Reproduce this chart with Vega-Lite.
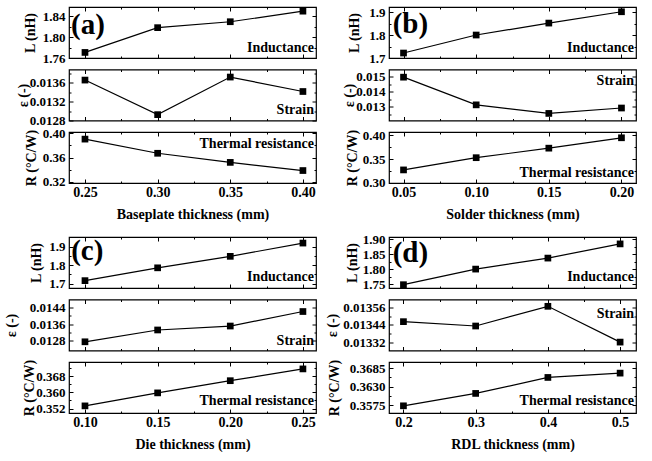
{
"$schema": "https://vega.github.io/schema/vega-lite/v6.json",
"background": "white",
"padding": {"left": 3, "top": 5, "right": 0, "bottom": 0},
"datasets": {
"aL": [{"x":0.25,"y":1.7707},{"x":0.30,"y":1.8183},{"x":0.35,"y":1.8297},{"x":0.40,"y":1.8500}],
"aS": [{"x":0.25,"y":0.013656},{"x":0.30,"y":0.012924},{"x":0.35,"y":0.01372},{"x":0.40,"y":0.013414}],
"aR": [{"x":0.25,"y":0.3905},{"x":0.30,"y":0.3672},{"x":0.35,"y":0.3522},{"x":0.40,"y":0.3388}],
"bL": [{"x":0.05,"y":1.7216},{"x":0.10,"y":1.800},{"x":0.15,"y":1.852},{"x":0.20,"y":1.9013}],
"bS": [{"x":0.05,"y":0.01497},{"x":0.10,"y":0.01313},{"x":0.15,"y":0.01256},{"x":0.20,"y":0.01292}],
"bR": [{"x":0.05,"y":0.327},{"x":0.10,"y":0.3528},{"x":0.15,"y":0.3729},{"x":0.20,"y":0.3948}],
"cL": [{"x":0.10,"y":1.716},{"x":0.15,"y":1.7856},{"x":0.20,"y":1.848},{"x":0.25,"y":1.920}],
"cS": [{"x":0.10,"y":0.01275},{"x":0.15,"y":0.01332},{"x":0.20,"y":0.01351},{"x":0.25,"y":0.01421}],
"cR": [{"x":0.10,"y":0.3533},{"x":0.15,"y":0.3597},{"x":0.20,"y":0.3657},{"x":0.25,"y":0.3715}],
"dL": [{"x":0.2,"y":1.749},{"x":0.3,"y":1.801},{"x":0.4,"y":1.8377},{"x":0.5,"y":1.885}],
"dS": [{"x":0.2,"y":0.013461},{"x":0.3,"y":0.013431},{"x":0.4,"y":0.013567},{"x":0.5,"y":0.01332}],
"dR": [{"x":0.2,"y":0.3573},{"x":0.3,"y":0.36098},{"x":0.4,"y":0.36572},{"x":0.5,"y":0.3670}]
},
"columns": 2,
"spacing": {"row": 10, "column": 6},
"concat": [
{"bounds": "flush", "spacing": 11.5, "vconcat": [
 {"width":247,"height":51,"data":{"name":"aL"},"resolve":{"axis":{"x":"independent","y":"independent"}},"layer":[
  {"mark":{"type":"line","color":"black","strokeWidth":1.2},"encoding":{
   "x":{"field":"x","type":"quantitative","scale":{"domain":[0.239,0.409],"nice":false,"zero":false},"axis":{"orient":"bottom","values":[0.25,0.3,0.35,0.4],"labels":false,"title":null}},
   "y":{"field":"y","type":"quantitative","scale":{"domain":[1.76,1.858],"nice":false,"zero":false},"axis":{"orient":"left","values":[1.76,1.8,1.84],"format":".2f","title":"L (nH)","titleX":-32,"titleY":25.5}}}},
  {"mark":{"type":"point","shape":"square","filled":true,"color":"black","size":45,"opacity":1},"encoding":{
   "x":{"field":"x","type":"quantitative","axis":{"orient":"top","values":[0.25,0.3,0.35,0.4],"labels":false,"title":null}},
   "y":{"field":"y","type":"quantitative","axis":{"orient":"right","values":[1.76,1.8,1.84],"labels":false,"title":null}}}},
  {"mark":{"type":"point","opacity":0},"encoding":{
   "x":{"field":"x","type":"quantitative","axis":{"orient":"bottom","values":[0.275,0.325,0.375],"labels":false,"tickSize":-2,"title":null}},
   "y":{"field":"y","type":"quantitative","axis":{"orient":"left","values":[1.78,1.82],"labels":false,"tickSize":-2,"title":null}}}},
  {"mark":{"type":"point","opacity":0},"encoding":{
   "x":{"field":"x","type":"quantitative","axis":{"orient":"top","values":[0.275,0.325,0.375],"labels":false,"tickSize":-2,"title":null}},
   "y":{"field":"y","type":"quantitative","axis":{"orient":"right","values":[1.78,1.82],"labels":false,"tickSize":-2,"title":null}}}},
  {"data":{"values":[{}]},"mark":{"type":"text","align":"right","baseline":"alphabetic"},"encoding":{
   "x":{"datum":0.4076,"type":"quantitative","axis":null},"y":{"datum":1.7722,"type":"quantitative","axis":null},"text":{"value":"Inductance"}}},
  {"data":{"values":[{}]},"mark":{"type":"text","align":"left","baseline":"alphabetic","fontSize":29},"encoding":{
   "x":{"datum":0.2404,"type":"quantitative","axis":null},"y":{"datum":1.8056,"type":"quantitative","axis":null},"text":{"value":"(a)"}}}
 ]},
 {"width":247,"height":51,"data":{"name":"aS"},"resolve":{"axis":{"x":"independent","y":"independent"}},"layer":[
  {"mark":{"type":"line","color":"black","strokeWidth":1.2},"encoding":{
   "x":{"field":"x","type":"quantitative","scale":{"domain":[0.239,0.409],"nice":false,"zero":false},"axis":{"orient":"bottom","values":[0.25,0.3,0.35,0.4],"labels":false,"title":null}},
   "y":{"field":"y","type":"quantitative","scale":{"domain":[0.0128,0.01388],"nice":false,"zero":false},"axis":{"orient":"left","values":[0.0128,0.0132,0.0136],"format":".4f","title":"ε (-)","titleX":-39,"titleY":25.5}}}},
  {"mark":{"type":"point","shape":"square","filled":true,"color":"black","size":45,"opacity":1},"encoding":{
   "x":{"field":"x","type":"quantitative","axis":{"orient":"top","values":[0.25,0.3,0.35,0.4],"labels":false,"title":null}},
   "y":{"field":"y","type":"quantitative","axis":{"orient":"right","values":[0.0128,0.0132,0.0136],"labels":false,"title":null}}}},
  {"mark":{"type":"point","opacity":0},"encoding":{
   "x":{"field":"x","type":"quantitative","axis":{"orient":"bottom","values":[0.275,0.325,0.375],"labels":false,"tickSize":-2,"title":null}},
   "y":{"field":"y","type":"quantitative","axis":{"orient":"left","values":[0.013,0.0134,0.0138],"labels":false,"tickSize":-2,"title":null}}}},
  {"mark":{"type":"point","opacity":0},"encoding":{
   "x":{"field":"x","type":"quantitative","axis":{"orient":"top","values":[0.275,0.325,0.375],"labels":false,"tickSize":-2,"title":null}},
   "y":{"field":"y","type":"quantitative","axis":{"orient":"right","values":[0.013,0.0134,0.0138],"labels":false,"tickSize":-2,"title":null}}}},
  {"data":{"values":[{}]},"mark":{"type":"text","align":"right","baseline":"alphabetic"},"encoding":{
   "x":{"datum":0.4076,"type":"quantitative","axis":null},"y":{"datum":0.012948,"type":"quantitative","axis":null},"text":{"value":"Strain"}}}
 ]},
 {"width":247,"height":51,"data":{"name":"aR"},"resolve":{"axis":{"x":"independent","y":"independent"}},"layer":[
  {"mark":{"type":"line","color":"black","strokeWidth":1.2},"encoding":{
   "x":{"field":"x","type":"quantitative","scale":{"domain":[0.239,0.409],"nice":false,"zero":false},"axis":{"orient":"bottom","values":[0.25,0.3,0.35,0.4],"format":".2f","title":"Baseplate thickness (mm)"}},
   "y":{"field":"y","type":"quantitative","scale":{"domain":[0.3183,0.4022],"nice":false,"zero":false},"axis":{"orient":"left","values":[0.32,0.36,0.4],"format":".2f","title":"R (°C/W)","titleX":-31,"titleY":25.5}}}},
  {"mark":{"type":"point","shape":"square","filled":true,"color":"black","size":45,"opacity":1},"encoding":{
   "x":{"field":"x","type":"quantitative","axis":{"orient":"top","values":[0.25,0.3,0.35,0.4],"labels":false,"title":null}},
   "y":{"field":"y","type":"quantitative","axis":{"orient":"right","values":[0.32,0.36,0.4],"labels":false,"title":null}}}},
  {"mark":{"type":"point","opacity":0},"encoding":{
   "x":{"field":"x","type":"quantitative","axis":{"orient":"bottom","values":[0.275,0.325,0.375],"labels":false,"tickSize":-2,"title":null}},
   "y":{"field":"y","type":"quantitative","axis":{"orient":"left","values":[0.34,0.38],"labels":false,"tickSize":-2,"title":null}}}},
  {"mark":{"type":"point","opacity":0},"encoding":{
   "x":{"field":"x","type":"quantitative","axis":{"orient":"top","values":[0.275,0.325,0.375],"labels":false,"tickSize":-2,"title":null}},
   "y":{"field":"y","type":"quantitative","axis":{"orient":"right","values":[0.34,0.38],"labels":false,"tickSize":-2,"title":null}}}},
  {"data":{"values":[{}]},"mark":{"type":"text","align":"right","baseline":"alphabetic"},"encoding":{
   "x":{"datum":0.4076,"type":"quantitative","axis":null},"y":{"datum":0.3764,"type":"quantitative","axis":null},"text":{"value":"Thermal resistance"}}}
 ]}
]},
{"bounds": "flush", "spacing": 11.5, "vconcat": [
 {"width":247,"height":51,"data":{"name":"bL"},"resolve":{"axis":{"x":"independent","y":"independent"}},"layer":[
  {"mark":{"type":"line","color":"black","strokeWidth":1.2},"encoding":{
   "x":{"field":"x","type":"quantitative","scale":{"domain":[0.04,0.21],"nice":false,"zero":false},"axis":{"orient":"bottom","values":[0.05,0.1,0.15,0.2],"labels":false,"title":null}},
   "y":{"field":"y","type":"quantitative","scale":{"domain":[1.7,1.922],"nice":false,"zero":false},"axis":{"orient":"left","values":[1.7,1.8,1.9],"format":".1f","title":"L (nH)","titleX":-28,"titleY":25.5}}}},
  {"mark":{"type":"point","shape":"square","filled":true,"color":"black","size":45,"opacity":1},"encoding":{
   "x":{"field":"x","type":"quantitative","axis":{"orient":"top","values":[0.05,0.1,0.15,0.2],"labels":false,"title":null}},
   "y":{"field":"y","type":"quantitative","axis":{"orient":"right","values":[1.7,1.8,1.9],"labels":false,"title":null}}}},
  {"mark":{"type":"point","opacity":0},"encoding":{
   "x":{"field":"x","type":"quantitative","axis":{"orient":"bottom","values":[0.075,0.125,0.175],"labels":false,"tickSize":-2,"title":null}},
   "y":{"field":"y","type":"quantitative","axis":{"orient":"left","values":[1.75,1.85],"labels":false,"tickSize":-2,"title":null}}}},
  {"mark":{"type":"point","opacity":0},"encoding":{
   "x":{"field":"x","type":"quantitative","axis":{"orient":"top","values":[0.075,0.125,0.175],"labels":false,"tickSize":-2,"title":null}},
   "y":{"field":"y","type":"quantitative","axis":{"orient":"right","values":[1.75,1.85],"labels":false,"tickSize":-2,"title":null}}}},
  {"data":{"values":[{}]},"mark":{"type":"text","align":"right","baseline":"alphabetic"},"encoding":{
   "x":{"datum":0.2086,"type":"quantitative","axis":null},"y":{"datum":1.7275,"type":"quantitative","axis":null},"text":{"value":"Inductance"}}},
  {"data":{"values":[{}]},"mark":{"type":"text","align":"left","baseline":"alphabetic","fontSize":29},"encoding":{
   "x":{"datum":0.0425,"type":"quantitative","axis":null},"y":{"datum":1.810,"type":"quantitative","axis":null},"text":{"value":"(b)"}}}
 ]},
 {"width":247,"height":51,"data":{"name":"bS"},"resolve":{"axis":{"x":"independent","y":"independent"}},"layer":[
  {"mark":{"type":"line","color":"black","strokeWidth":1.2},"encoding":{
   "x":{"field":"x","type":"quantitative","scale":{"domain":[0.04,0.21],"nice":false,"zero":false},"axis":{"orient":"bottom","values":[0.05,0.1,0.15,0.2],"labels":false,"title":null}},
   "y":{"field":"y","type":"quantitative","scale":{"domain":[0.01209,0.01548],"nice":false,"zero":false},"axis":{"orient":"left","values":[0.013,0.014,0.015],"format":".3f","title":"ε (-)","titleX":-33,"titleY":25.5}}}},
  {"mark":{"type":"point","shape":"square","filled":true,"color":"black","size":45,"opacity":1},"encoding":{
   "x":{"field":"x","type":"quantitative","axis":{"orient":"top","values":[0.05,0.1,0.15,0.2],"labels":false,"title":null}},
   "y":{"field":"y","type":"quantitative","axis":{"orient":"right","values":[0.013,0.014,0.015],"labels":false,"title":null}}}},
  {"mark":{"type":"point","opacity":0},"encoding":{
   "x":{"field":"x","type":"quantitative","axis":{"orient":"bottom","values":[0.075,0.125,0.175],"labels":false,"tickSize":-2,"title":null}},
   "y":{"field":"y","type":"quantitative","axis":{"orient":"left","values":[0.0125,0.0135,0.0145],"labels":false,"tickSize":-2,"title":null}}}},
  {"mark":{"type":"point","opacity":0},"encoding":{
   "x":{"field":"x","type":"quantitative","axis":{"orient":"top","values":[0.075,0.125,0.175],"labels":false,"tickSize":-2,"title":null}},
   "y":{"field":"y","type":"quantitative","axis":{"orient":"right","values":[0.0125,0.0135,0.0145],"labels":false,"tickSize":-2,"title":null}}}},
  {"data":{"values":[{}]},"mark":{"type":"text","align":"right","baseline":"alphabetic"},"encoding":{
   "x":{"datum":0.2086,"type":"quantitative","axis":null},"y":{"datum":0.014449,"type":"quantitative","axis":null},"text":{"value":"Strain"}}}
 ]},
 {"width":247,"height":51,"data":{"name":"bR"},"resolve":{"axis":{"x":"independent","y":"independent"}},"layer":[
  {"mark":{"type":"line","color":"black","strokeWidth":1.2},"encoding":{
   "x":{"field":"x","type":"quantitative","scale":{"domain":[0.04,0.21],"nice":false,"zero":false},"axis":{"orient":"bottom","values":[0.05,0.1,0.15,0.2],"format":".2f","title":"Solder thickness (mm)"}},
   "y":{"field":"y","type":"quantitative","scale":{"domain":[0.2994,0.407],"nice":false,"zero":false},"axis":{"orient":"left","values":[0.3,0.35,0.4],"format":".2f","title":"R (°C/W)","titleX":-30,"titleY":25.5}}}},
  {"mark":{"type":"point","shape":"square","filled":true,"color":"black","size":45,"opacity":1},"encoding":{
   "x":{"field":"x","type":"quantitative","axis":{"orient":"top","values":[0.05,0.1,0.15,0.2],"labels":false,"title":null}},
   "y":{"field":"y","type":"quantitative","axis":{"orient":"right","values":[0.3,0.35,0.4],"labels":false,"title":null}}}},
  {"mark":{"type":"point","opacity":0},"encoding":{
   "x":{"field":"x","type":"quantitative","axis":{"orient":"bottom","values":[0.075,0.125,0.175],"labels":false,"tickSize":-2,"title":null}},
   "y":{"field":"y","type":"quantitative","axis":{"orient":"left","values":[0.325,0.375],"labels":false,"tickSize":-2,"title":null}}}},
  {"mark":{"type":"point","opacity":0},"encoding":{
   "x":{"field":"x","type":"quantitative","axis":{"orient":"top","values":[0.075,0.125,0.175],"labels":false,"tickSize":-2,"title":null}},
   "y":{"field":"y","type":"quantitative","axis":{"orient":"right","values":[0.325,0.375],"labels":false,"tickSize":-2,"title":null}}}},
  {"data":{"values":[{}]},"mark":{"type":"text","align":"right","baseline":"alphabetic"},"encoding":{
   "x":{"datum":0.2086,"type":"quantitative","axis":null},"y":{"datum":0.3124,"type":"quantitative","axis":null},"text":{"value":"Thermal resistance"}}}
 ]}
]},
{"bounds": "flush", "spacing": 11.5, "vconcat": [
 {"width":247,"height":51,"data":{"name":"cL"},"resolve":{"axis":{"x":"independent","y":"independent"}},"layer":[
  {"mark":{"type":"line","color":"black","strokeWidth":1.2},"encoding":{
   "x":{"field":"x","type":"quantitative","scale":{"domain":[0.089,0.259],"nice":false,"zero":false},"axis":{"orient":"bottom","values":[0.1,0.15,0.2,0.25],"labels":false,"title":null}},
   "y":{"field":"y","type":"quantitative","scale":{"domain":[1.676,1.953],"nice":false,"zero":false},"axis":{"orient":"left","values":[1.7,1.8,1.9],"format":".1f","title":"L (nH)","titleX":-26,"titleY":25.5}}}},
  {"mark":{"type":"point","shape":"square","filled":true,"color":"black","size":45,"opacity":1},"encoding":{
   "x":{"field":"x","type":"quantitative","axis":{"orient":"top","values":[0.1,0.15,0.2,0.25],"labels":false,"title":null}},
   "y":{"field":"y","type":"quantitative","axis":{"orient":"right","values":[1.7,1.8,1.9],"labels":false,"title":null}}}},
  {"mark":{"type":"point","opacity":0},"encoding":{
   "x":{"field":"x","type":"quantitative","axis":{"orient":"bottom","values":[0.125,0.175,0.225],"labels":false,"tickSize":-2,"title":null}},
   "y":{"field":"y","type":"quantitative","axis":{"orient":"left","values":[1.75,1.85],"labels":false,"tickSize":-2,"title":null}}}},
  {"mark":{"type":"point","opacity":0},"encoding":{
   "x":{"field":"x","type":"quantitative","axis":{"orient":"top","values":[0.125,0.175,0.225],"labels":false,"tickSize":-2,"title":null}},
   "y":{"field":"y","type":"quantitative","axis":{"orient":"right","values":[1.75,1.85],"labels":false,"tickSize":-2,"title":null}}}},
  {"data":{"values":[{}]},"mark":{"type":"text","align":"right","baseline":"alphabetic"},"encoding":{
   "x":{"datum":0.2576,"type":"quantitative","axis":null},"y":{"datum":1.714,"type":"quantitative","axis":null},"text":{"value":"Inductance"}}},
  {"data":{"values":[{}]},"mark":{"type":"text","align":"left","baseline":"alphabetic","fontSize":29},"encoding":{
   "x":{"datum":0.0905,"type":"quantitative","axis":null},"y":{"datum":1.826,"type":"quantitative","axis":null},"text":{"value":"(c)"}}}
 ]},
 {"width":247,"height":51,"data":{"name":"cS"},"resolve":{"axis":{"x":"independent","y":"independent"}},"layer":[
  {"mark":{"type":"line","color":"black","strokeWidth":1.2},"encoding":{
   "x":{"field":"x","type":"quantitative","scale":{"domain":[0.089,0.259],"nice":false,"zero":false},"axis":{"orient":"bottom","values":[0.1,0.15,0.2,0.25],"labels":false,"title":null}},
   "y":{"field":"y","type":"quantitative","scale":{"domain":[0.01233,0.01479],"nice":false,"zero":false},"axis":{"orient":"left","values":[0.0128,0.0136,0.0144],"format":".4f","title":"ε (-)","titleX":-51,"titleY":25.5}}}},
  {"mark":{"type":"point","shape":"square","filled":true,"color":"black","size":45,"opacity":1},"encoding":{
   "x":{"field":"x","type":"quantitative","axis":{"orient":"top","values":[0.1,0.15,0.2,0.25],"labels":false,"title":null}},
   "y":{"field":"y","type":"quantitative","axis":{"orient":"right","values":[0.0128,0.0136,0.0144],"labels":false,"title":null}}}},
  {"mark":{"type":"point","opacity":0},"encoding":{
   "x":{"field":"x","type":"quantitative","axis":{"orient":"bottom","values":[0.125,0.175,0.225],"labels":false,"tickSize":-2,"title":null}},
   "y":{"field":"y","type":"quantitative","axis":{"orient":"left","values":[0.0132,0.014],"labels":false,"tickSize":-2,"title":null}}}},
  {"mark":{"type":"point","opacity":0},"encoding":{
   "x":{"field":"x","type":"quantitative","axis":{"orient":"top","values":[0.125,0.175,0.225],"labels":false,"tickSize":-2,"title":null}},
   "y":{"field":"y","type":"quantitative","axis":{"orient":"right","values":[0.0132,0.014],"labels":false,"tickSize":-2,"title":null}}}},
  {"data":{"values":[{}]},"mark":{"type":"text","align":"right","baseline":"alphabetic"},"encoding":{
   "x":{"datum":0.2576,"type":"quantitative","axis":null},"y":{"datum":0.012581,"type":"quantitative","axis":null},"text":{"value":"Strain"}}}
 ]},
 {"width":247,"height":51,"data":{"name":"cR"},"resolve":{"axis":{"x":"independent","y":"independent"}},"layer":[
  {"mark":{"type":"line","color":"black","strokeWidth":1.2},"encoding":{
   "x":{"field":"x","type":"quantitative","scale":{"domain":[0.089,0.259],"nice":false,"zero":false},"axis":{"orient":"bottom","values":[0.1,0.15,0.2,0.25],"format":".2f","title":"Die thickness (mm)"}},
   "y":{"field":"y","type":"quantitative","scale":{"domain":[0.3498,0.3749],"nice":false,"zero":false},"axis":{"orient":"left","values":[0.352,0.36,0.368],"format":".3f","title":"R (°C/W)","titleX":-33,"titleY":25.5}}}},
  {"mark":{"type":"point","shape":"square","filled":true,"color":"black","size":45,"opacity":1},"encoding":{
   "x":{"field":"x","type":"quantitative","axis":{"orient":"top","values":[0.1,0.15,0.2,0.25],"labels":false,"title":null}},
   "y":{"field":"y","type":"quantitative","axis":{"orient":"right","values":[0.352,0.36,0.368],"labels":false,"title":null}}}},
  {"mark":{"type":"point","opacity":0},"encoding":{
   "x":{"field":"x","type":"quantitative","axis":{"orient":"bottom","values":[0.125,0.175,0.225],"labels":false,"tickSize":-2,"title":null}},
   "y":{"field":"y","type":"quantitative","axis":{"orient":"left","values":[0.356,0.364,0.372],"labels":false,"tickSize":-2,"title":null}}}},
  {"mark":{"type":"point","opacity":0},"encoding":{
   "x":{"field":"x","type":"quantitative","axis":{"orient":"top","values":[0.125,0.175,0.225],"labels":false,"tickSize":-2,"title":null}},
   "y":{"field":"y","type":"quantitative","axis":{"orient":"right","values":[0.356,0.364,0.372],"labels":false,"tickSize":-2,"title":null}}}},
  {"data":{"values":[{}]},"mark":{"type":"text","align":"right","baseline":"alphabetic"},"encoding":{
   "x":{"datum":0.2576,"type":"quantitative","axis":null},"y":{"datum":0.35359,"type":"quantitative","axis":null},"text":{"value":"Thermal resistance"}}}
 ]}
]},
{"bounds": "flush", "spacing": 11.5, "vconcat": [
 {"width":247,"height":51,"data":{"name":"dL"},"resolve":{"axis":{"x":"independent","y":"independent"}},"layer":[
  {"mark":{"type":"line","color":"black","strokeWidth":1.2},"encoding":{
   "x":{"field":"x","type":"quantitative","scale":{"domain":[0.18,0.522],"nice":false,"zero":false},"axis":{"orient":"bottom","values":[0.2,0.3,0.4,0.5],"labels":false,"title":null}},
   "y":{"field":"y","type":"quantitative","scale":{"domain":[1.738,1.908],"nice":false,"zero":false},"axis":{"orient":"left","values":[1.75,1.8,1.85,1.9],"format":".2f","title":"L (nH)","titleX":-30,"titleY":25.5}}}},
  {"mark":{"type":"point","shape":"square","filled":true,"color":"black","size":45,"opacity":1},"encoding":{
   "x":{"field":"x","type":"quantitative","axis":{"orient":"top","values":[0.2,0.3,0.4,0.5],"labels":false,"title":null}},
   "y":{"field":"y","type":"quantitative","axis":{"orient":"right","values":[1.75,1.8,1.85,1.9],"labels":false,"title":null}}}},
  {"mark":{"type":"point","opacity":0},"encoding":{
   "x":{"field":"x","type":"quantitative","axis":{"orient":"bottom","values":[0.25,0.35,0.45],"labels":false,"tickSize":-2,"title":null}},
   "y":{"field":"y","type":"quantitative","axis":{"orient":"left","values":[1.775,1.825,1.875],"labels":false,"tickSize":-2,"title":null}}}},
  {"mark":{"type":"point","opacity":0},"encoding":{
   "x":{"field":"x","type":"quantitative","axis":{"orient":"top","values":[0.25,0.35,0.45],"labels":false,"tickSize":-2,"title":null}},
   "y":{"field":"y","type":"quantitative","axis":{"orient":"right","values":[1.775,1.825,1.875],"labels":false,"tickSize":-2,"title":null}}}},
  {"data":{"values":[{}]},"mark":{"type":"text","align":"right","baseline":"alphabetic"},"encoding":{
   "x":{"datum":0.5193,"type":"quantitative","axis":null},"y":{"datum":1.7613,"type":"quantitative","axis":null},"text":{"value":"Inductance"}}},
  {"data":{"values":[{}]},"mark":{"type":"text","align":"left","baseline":"alphabetic","fontSize":29},"encoding":{
   "x":{"datum":0.1851,"type":"quantitative","axis":null},"y":{"datum":1.8247,"type":"quantitative","axis":null},"text":{"value":"(d)"}}}
 ]},
 {"width":247,"height":51,"data":{"name":"dS"},"resolve":{"axis":{"x":"independent","y":"independent"}},"layer":[
  {"mark":{"type":"line","color":"black","strokeWidth":1.2},"encoding":{
   "x":{"field":"x","type":"quantitative","scale":{"domain":[0.18,0.522],"nice":false,"zero":false},"axis":{"orient":"bottom","values":[0.2,0.3,0.4,0.5],"labels":false,"title":null}},
   "y":{"field":"y","type":"quantitative","scale":{"domain":[0.013262,0.013614],"nice":false,"zero":false},"axis":{"orient":"left","values":[0.01332,0.01344,0.01356],"format":".5f","title":"ε (-)","titleX":-50,"titleY":25.5}}}},
  {"mark":{"type":"point","shape":"square","filled":true,"color":"black","size":45,"opacity":1},"encoding":{
   "x":{"field":"x","type":"quantitative","axis":{"orient":"top","values":[0.2,0.3,0.4,0.5],"labels":false,"title":null}},
   "y":{"field":"y","type":"quantitative","axis":{"orient":"right","values":[0.01332,0.01344,0.01356],"labels":false,"title":null}}}},
  {"mark":{"type":"point","opacity":0},"encoding":{
   "x":{"field":"x","type":"quantitative","axis":{"orient":"bottom","values":[0.25,0.35,0.45],"labels":false,"tickSize":-2,"title":null}},
   "y":{"field":"y","type":"quantitative","axis":{"orient":"left","values":[0.01338,0.0135],"labels":false,"tickSize":-2,"title":null}}}},
  {"mark":{"type":"point","opacity":0},"encoding":{
   "x":{"field":"x","type":"quantitative","axis":{"orient":"top","values":[0.25,0.35,0.45],"labels":false,"tickSize":-2,"title":null}},
   "y":{"field":"y","type":"quantitative","axis":{"orient":"right","values":[0.01338,0.0135],"labels":false,"tickSize":-2,"title":null}}}},
  {"data":{"values":[{}]},"mark":{"type":"text","align":"right","baseline":"alphabetic"},"encoding":{
   "x":{"datum":0.5193,"type":"quantitative","axis":null},"y":{"datum":0.013488,"type":"quantitative","axis":null},"text":{"value":"Strain"}}}
 ]},
 {"width":247,"height":51,"data":{"name":"dR"},"resolve":{"axis":{"x":"independent","y":"independent"}},"layer":[
  {"mark":{"type":"line","color":"black","strokeWidth":1.2},"encoding":{
   "x":{"field":"x","type":"quantitative","scale":{"domain":[0.18,0.522],"nice":false,"zero":false},"axis":{"orient":"bottom","values":[0.2,0.3,0.4,0.5],"format":".1f","title":"RDL thickness (mm)"}},
   "y":{"field":"y","type":"quantitative","scale":{"domain":[0.35517,0.3703],"nice":false,"zero":false},"axis":{"orient":"left","values":[0.3575,0.363,0.3685],"format":".4f","title":"R (°C/W)","titleX":-48,"titleY":25.5}}}},
  {"mark":{"type":"point","shape":"square","filled":true,"color":"black","size":45,"opacity":1},"encoding":{
   "x":{"field":"x","type":"quantitative","axis":{"orient":"top","values":[0.2,0.3,0.4,0.5],"labels":false,"title":null}},
   "y":{"field":"y","type":"quantitative","axis":{"orient":"right","values":[0.3575,0.363,0.3685],"labels":false,"title":null}}}},
  {"mark":{"type":"point","opacity":0},"encoding":{
   "x":{"field":"x","type":"quantitative","axis":{"orient":"bottom","values":[0.25,0.35,0.45],"labels":false,"tickSize":-2,"title":null}},
   "y":{"field":"y","type":"quantitative","axis":{"orient":"left","values":[0.36025,0.36575],"labels":false,"tickSize":-2,"title":null}}}},
  {"mark":{"type":"point","opacity":0},"encoding":{
   "x":{"field":"x","type":"quantitative","axis":{"orient":"top","values":[0.25,0.35,0.45],"labels":false,"tickSize":-2,"title":null}},
   "y":{"field":"y","type":"quantitative","axis":{"orient":"right","values":[0.36025,0.36575],"labels":false,"tickSize":-2,"title":null}}}},
  {"data":{"values":[{}]},"mark":{"type":"text","align":"right","baseline":"alphabetic"},"encoding":{
   "x":{"datum":0.5193,"type":"quantitative","axis":null},"y":{"datum":0.35745,"type":"quantitative","axis":null},"text":{"value":"Thermal resistance"}}}
 ]}
]}
],
"config": {
 "font": "Times New Roman, Liberation Serif, serif",
 "view": {"stroke": "black", "strokeWidth": 1.2},
 "text": {"font": "Times New Roman, Liberation Serif, serif", "fontWeight": "bold", "fontSize": 14, "color": "black"},
 "axis": {"domain": false, "grid": false, "ticks": true, "tickSize": -4, "tickColor": "black", "tickWidth": 1,
  "labelFont": "Times New Roman, Liberation Serif, serif", "labelFontSize": 13, "labelFontWeight": "bold", "labelColor": "black", "labelPadding": 8,
  "labelFlush": false, "labelOverlap": false,
  "titleFont": "Times New Roman, Liberation Serif, serif", "titleFontSize": 14, "titleFontWeight": "bold", "titleColor": "black", "titlePadding": 1},
 "axisX": {"labelPadding": 6, "titlePadding": 8, "labelFontSize": 14},
 "axisY": {"titleBaseline": "bottom", "titleAngle": -90}
}
}
